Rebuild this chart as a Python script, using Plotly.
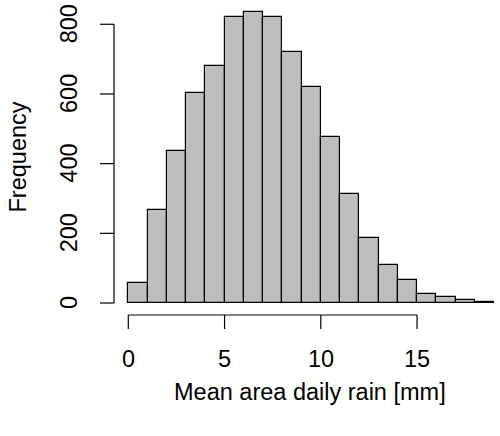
import plotly.graph_objects as go

bin_left = list(range(0, 19))
counts = [58, 266, 436, 604, 681, 821, 836, 820, 721, 620, 477, 314, 186, 110, 65, 25, 17, 9, 4]
x_ticks = [0, 5, 10, 15]
y_ticks = [0, 200, 400, 600, 800]
x_title = "Mean area daily rain [mm]"
y_title = "Frequency"

FONT = "Liberation Sans, Arial, sans-serif"
FS = 23.5

fig = go.Figure()
fig.add_trace(go.Bar(
    x=[b + 0.5 for b in bin_left], y=counts, width=[1] * len(counts),
    marker=dict(color="#BEBEBE", line=dict(color="black", width=1.2)),
    hoverinfo="skip",
))

shapes = []
# x axis line & ticks
shapes.append(dict(type="line", xref="x", yref="paper", x0=x_ticks[0], x1=x_ticks[-1], y0=0, y1=0,
                   line=dict(color="black", width=1.2)))
for t in x_ticks:
    shapes.append(dict(type="line", xref="x", yref="paper", ysizemode="pixel", yanchor=0,
                       x0=t, x1=t, y0=0, y1=-14, line=dict(color="black", width=1.2)))
# y axis line & ticks
shapes.append(dict(type="line", xref="paper", yref="y", x0=0, x1=0, y0=y_ticks[0], y1=y_ticks[-1],
                   line=dict(color="black", width=1.2)))
for t in y_ticks:
    shapes.append(dict(type="line", xref="paper", yref="y", xsizemode="pixel", xanchor=0,
                       x0=0, x1=-14, y0=t, y1=t, line=dict(color="black", width=1.2)))

ann = []
for t in x_ticks:
    ann.append(dict(x=t, y=0, xref="x", yref="paper", text=str(t), showarrow=False,
                    yshift=-44, font=dict(family=FONT, size=FS, color="black"),
                    xanchor="center", yanchor="middle"))
for t in y_ticks:
    ann.append(dict(x=0, y=t, xref="paper", yref="y", text=str(t), showarrow=False,
                    xshift=-45, textangle=-90, font=dict(family=FONT, size=FS, color="black"),
                    xanchor="center", yanchor="middle"))
ann.append(dict(x=0.5, y=0, xref="paper", yref="paper", text=x_title, showarrow=False,
                xshift=3, yshift=-77, font=dict(family=FONT, size=FS, color="black"),
                xanchor="center", yanchor="middle"))
ann.append(dict(x=0, y=0.5, xref="paper", yref="paper", text=y_title, showarrow=False,
                xshift=-97, textangle=-90, font=dict(family=FONT, size=FS, color="black"),
                xanchor="center", yanchor="middle"))

fig.update_layout(
    width=500, height=436,
    margin=dict(l=114, r=0, t=0, b=121, pad=0),
    paper_bgcolor="white", plot_bgcolor="white",
    showlegend=False, bargap=0,
    xaxis=dict(range=[-0.743, 19.309], visible=False, fixedrange=True),
    yaxis=dict(range=[-34.4, 869.7], visible=False, fixedrange=True),
    shapes=shapes, annotations=ann,
)
fig.write_html("out.html")
